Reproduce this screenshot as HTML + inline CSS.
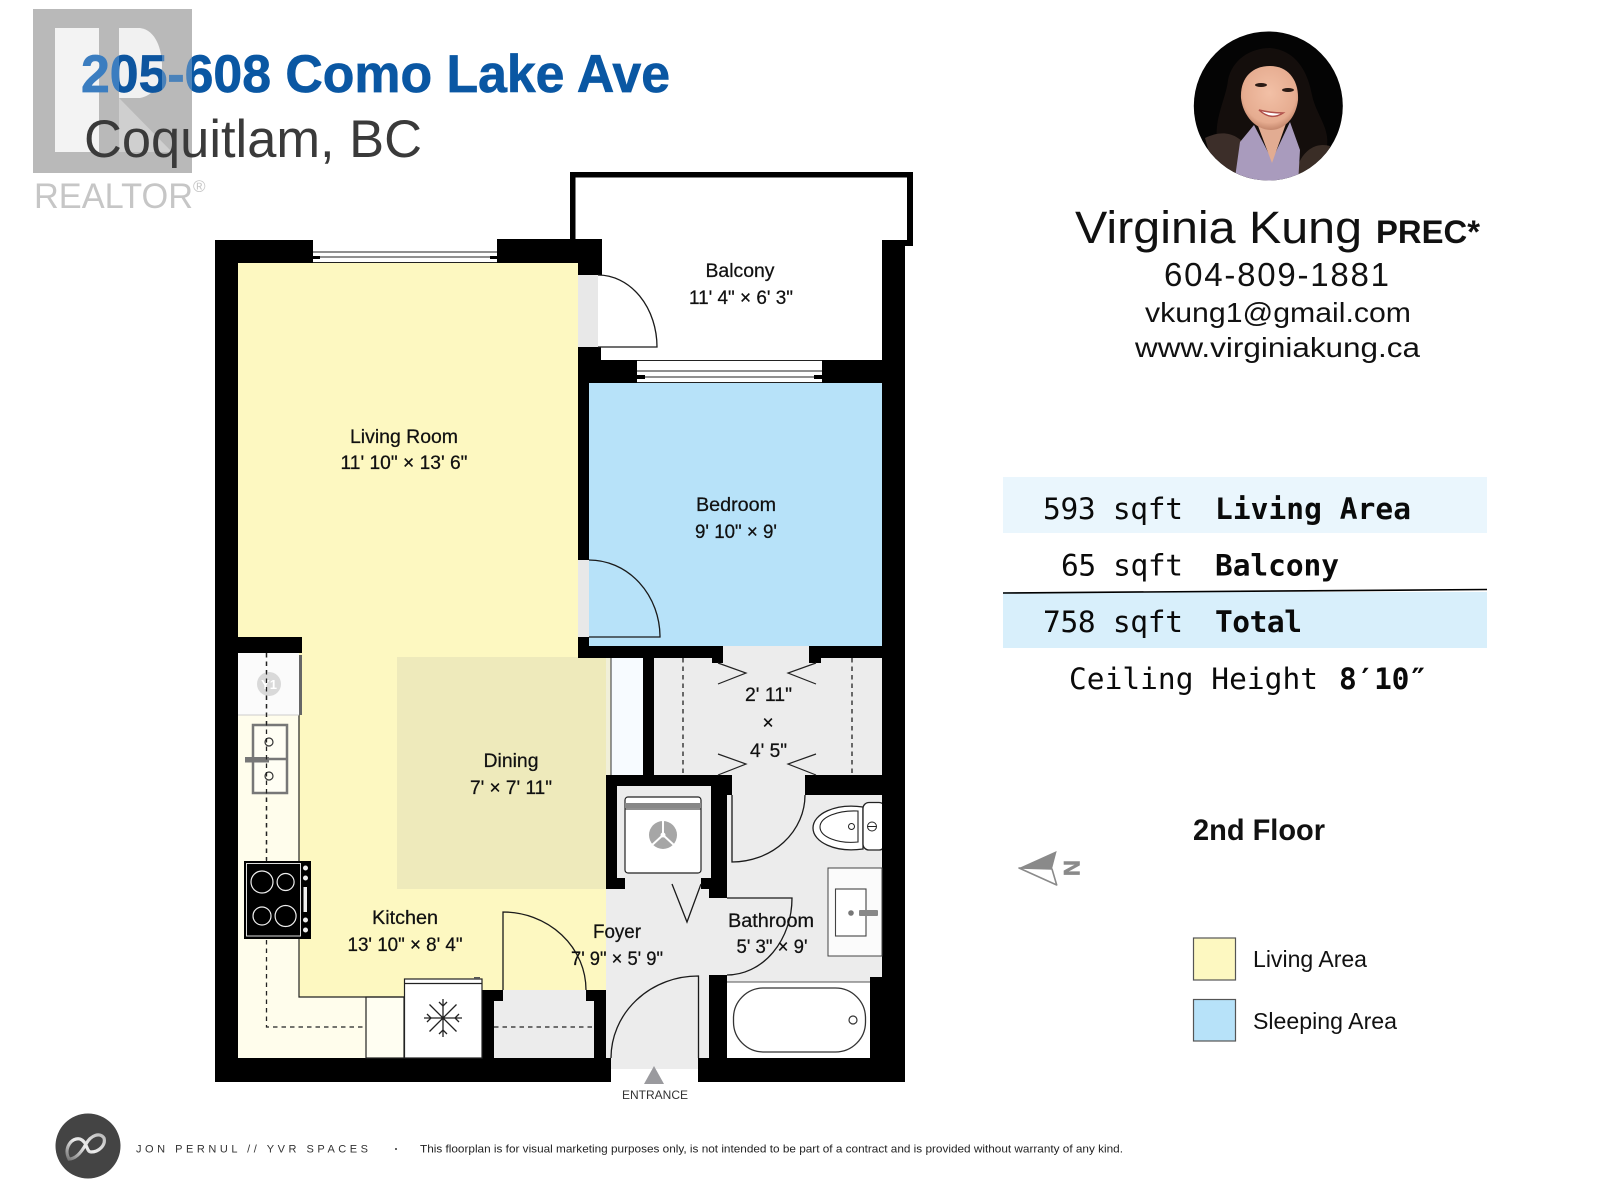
<!DOCTYPE html>
<html lang="en"><head><meta charset="utf-8"><title>205-608 Como Lake Ave floorplan</title>
<style>
html,body{margin:0;padding:0;background:#fff;width:1600px;height:1200px;overflow:hidden}
svg{display:block}
text{font-family:"Liberation Sans",sans-serif;fill:#111}
.m{font-family:"DejaVu Sans Mono","Liberation Mono",monospace;font-size:29.5px;fill:#0a0a0a}
.b{font-weight:bold}
.l{font-size:19px;text-anchor:middle;stroke:#111;stroke-width:.25}
.d{fill:none;stroke:#1a1a1a;stroke-width:1.3}
.t{fill:none;stroke:#222;stroke-width:1.2}
.h{fill:none;stroke:#222;stroke-width:1.3;stroke-dasharray:4.5 4}
</style></head><body>
<svg width="1600" height="1200" viewBox="0 0 1600 1200" xmlns="http://www.w3.org/2000/svg">
<defs>
<linearGradient id="tg" gradientUnits="userSpaceOnUse" x1="0" y1="0" x2="400" y2="0">
<stop offset="0" stop-color="#3b7dc0"/><stop offset=".2975" stop-color="#3b7dc0"/>
<stop offset=".2975" stop-color="#0d559f"/><stop offset=".405" stop-color="#0d559f"/>
<stop offset=".405" stop-color="#4a82ba"/><stop offset=".48" stop-color="#4a82ba"/>
<stop offset=".48" stop-color="#0a57a3"/><stop offset="1" stop-color="#0a57a3"/>
</linearGradient>
<radialGradient id="face" cx=".5" cy=".42" r=".62"><stop offset="0" stop-color="#f2c0a6"/><stop offset=".75" stop-color="#e6ac90"/><stop offset="1" stop-color="#b87a60"/></radialGradient>
<linearGradient id="sw" x1="0" y1="1" x2="1" y2="0"><stop offset="0" stop-color="#777"/><stop offset=".5" stop-color="#eee"/><stop offset="1" stop-color="#bbb"/></linearGradient>
<clipPath id="pc"><circle cx="1268.3" cy="106" r="74.5"/></clipPath>
</defs>
<rect width="1600" height="1200" fill="#fff"/>

<!-- REALTOR logo -->
<rect x="33" y="9" width="159" height="164" fill="#b9b9b9"/>
<rect x="55" y="28" width="44" height="124" fill="#f3f3f3"/>
<path d="M119 28H140C156 30 162 50 162 66C162 84 152 96 140 98L119 98Z" fill="#f1f1f1"/>
<path d="M119 98L172 152H119Z" fill="#cfcfcf"/>
<text x="34" y="208" font-size="35" style="fill:#c6c6c6" textLength="159" lengthAdjust="spacingAndGlyphs">REALTOR</text>
<text x="193" y="192" font-size="17" style="fill:#c6c6c6">®</text>

<text x="81" y="92" font-size="53" font-weight="bold" textLength="589" lengthAdjust="spacingAndGlyphs" style="fill:url(#tg);stroke:url(#tg);stroke-width:.7">205-608 Como Lake Ave</text>
<text x="84" y="157" font-size="53" textLength="338" lengthAdjust="spacingAndGlyphs" style="fill:#3a3a3a">Coquitlam, BC</text>

<!-- floors -->
<path d="M238 263H578V646H606V990H482V997H366V1058H299V653H238Z" fill="#fdf8c1"/>
<rect x="238" y="715" width="61" height="343" fill="#fffdec"/>
<rect x="299" y="997" width="67" height="61" fill="#fffdec"/>
<rect x="366" y="997" width="38" height="61" fill="#fffef2"/>
<rect x="397" y="657" width="209" height="232" fill="#eeeabb"/>
<rect x="589" y="383" width="293" height="263" fill="#b7e2f9"/>
<rect x="238" y="653" width="61" height="62" fill="#fbfbfb"/>
<rect x="578" y="275" width="20" height="72" fill="#e8e8e8"/>
<rect x="578" y="560" width="11" height="77" fill="#e8e8e8"/>
<rect x="606" y="658" width="5" height="117" fill="#f0efd8"/>
<rect x="611" y="658" width="32" height="117" fill="#f7fbff"/>
<rect x="654" y="658" width="228" height="117" fill="#ececec"/>
<rect x="723" y="646" width="86" height="12" fill="#ececec"/>
<rect x="727" y="775" width="78" height="20" fill="#ececec"/>
<rect x="606" y="878" width="121" height="191" fill="#ececec"/>
<rect x="727" y="795" width="155" height="187" fill="#ececec"/>
<rect x="617" y="786" width="94" height="92" fill="#ececec"/>
<path d="M503 990H586V1001H594V1058H494V1001H503Z" fill="#ececec"/>

<!-- walls -->
<g fill="#000">
<rect x="215" y="240" width="23" height="842"/>
<rect x="215" y="240" width="98" height="23"/>
<rect x="497" y="239" width="105" height="24"/>
<rect x="578" y="239" width="24" height="36"/>
<rect x="578" y="347" width="23" height="13"/>
<rect x="578" y="360" width="59" height="23"/>
<rect x="578" y="383" width="11" height="177"/>
<rect x="822" y="360" width="60" height="23"/>
<rect x="882" y="240" width="23" height="842"/>
<rect x="578" y="637" width="11" height="10"/>
<rect x="578" y="646" width="145" height="12"/>
<rect x="809" y="646" width="73" height="12"/>
<rect x="712" y="658" width="11" height="5"/>
<rect x="809" y="658" width="12" height="5"/>
<rect x="238" y="637" width="64" height="16"/>
<rect x="643" y="658" width="11" height="117"/>
<rect x="606" y="775" width="126" height="11"/>
<rect x="606" y="775" width="11" height="114"/>
<rect x="606" y="878" width="19" height="11"/>
<rect x="711" y="775" width="21" height="20"/>
<rect x="711" y="795" width="16" height="103"/>
<rect x="701" y="878" width="10" height="11"/>
<rect x="709" y="889" width="18" height="9"/>
<rect x="805" y="775" width="77" height="20"/>
<rect x="215" y="1058" width="396" height="24"/>
<rect x="698" y="1058" width="207" height="24"/>
<rect x="709" y="975" width="18" height="83"/>
<rect x="870" y="977" width="12" height="81"/>
<rect x="482" y="990" width="21" height="11"/>
<rect x="482" y="990" width="12" height="68"/>
<rect x="586" y="990" width="20" height="11"/>
<rect x="594" y="990" width="12" height="68"/>
<!-- balcony rail -->
<rect x="570" y="172" width="5.5" height="68"/>
<rect x="570" y="172" width="343" height="5.5"/>
<rect x="907" y="172" width="6" height="74"/>
<rect x="903" y="240" width="10" height="6"/>
</g>
<rect x="299" y="655" width="3" height="60" fill="#666"/>

<!-- windows -->
<g>
<rect x="313" y="251" width="184" height="12" fill="#fff"/>
<path d="M313 252H497M313 257H497M313 262.5H497" stroke="#222" stroke-width="1" fill="none"/>
<rect x="313" y="256" width="7" height="3" fill="#000"/><rect x="490" y="256" width="7" height="3" fill="#000"/>
<rect x="637" y="360" width="185" height="23" fill="#fff"/>
<path d="M637 360.5H822M637 371H822M637 377H822M637 382.5H822" stroke="#222" stroke-width="1" fill="none"/>
<rect x="637" y="375" width="8" height="4" fill="#000"/><rect x="814" y="375" width="8" height="4" fill="#000"/>
</g>

<!-- doors -->
<path class="d" d="M598 275A59 72 0 0 1 657 347H598"/>
<path class="d" d="M589 560A71 77 0 0 1 660 637H589"/>
<path class="d" d="M503 990V912A83 78 0 0 1 586 990"/>
<path class="d" d="M732 795V862A73 67 0 0 0 805 795"/>
<path class="d" d="M727 898H792A65 77 0 0 1 727 975"/>
<path class="d" d="M698.5 1058V976A87 82 0 0 0 611 1058"/>
<path class="d" d="M672 884L687 922L701 884"/>

<!-- walk-in closet -->
<path class="t" d="M718 663L746 673L718 684M816 663L788 673L816 684M718 754L746 764L718 775M816 754L788 764L816 775"/>
<path class="h" d="M683 658V775M852 658V775"/>
<path d="M611 658V775" stroke="#333" stroke-width="1"/>

<!-- kitchen -->
<path class="h" d="M266.5 653V861M266.5 940V1027H366M494 1027H594"/>
<path d="M299 715V997H404" class="t"/>
<path d="M238 715H299" stroke="#ccc" stroke-width="1"/>
<circle cx="269" cy="684" r="12" fill="#d9d9d9"/>
<text x="269" y="689" font-size="13" text-anchor="middle" style="fill:#fff" font-weight="bold">Y1</text>
<rect x="253" y="725" width="34" height="68" fill="#fffef4" stroke="#777" stroke-width="2.5"/>
<path d="M253 759H287" stroke="#777" stroke-width="2.5"/>
<circle cx="269" cy="742" r="4" fill="none" stroke="#333" stroke-width="1.2"/>
<circle cx="269" cy="776" r="4" fill="none" stroke="#333" stroke-width="1.2"/>
<rect x="245" y="757" width="24" height="5.5" fill="#777"/>
<path class="h" d="M266.5 653V860"/>
<rect x="244" y="861" width="67" height="78" fill="#000"/>
<rect x="246.5" y="863.5" width="54" height="72.5" fill="none" stroke="#ddd" stroke-width="1"/>
<g fill="none" stroke="#eee" stroke-width="1.2">
<circle cx="262" cy="882" r="11"/><circle cx="285.6" cy="882" r="8.5"/>
<circle cx="262" cy="916" r="9"/><circle cx="285.6" cy="916" r="10.5"/>
</g>
<g fill="#eee"><circle cx="305.5" cy="868" r="2.5"/><circle cx="305.5" cy="878" r="2.5"/><circle cx="305.5" cy="920" r="2.5"/><circle cx="305.5" cy="930" r="2.5"/>
<rect x="303.5" y="887" width="3.5" height="25"/></g>
<!-- fridge -->
<rect x="404.5" y="979" width="77.5" height="79" fill="#fff" stroke="#222" stroke-width="1.2"/>
<path d="M404.5 983.5H482" stroke="#222" stroke-width="1.2"/>
<rect x="474" y="977" width="6" height="2" fill="#555"/>
<g stroke="#222" stroke-width="1.3" fill="none">
<path d="M443 999V1037M424 1018H462M429.5 1004.5L456.5 1031.5M456.5 1004.5L429.5 1031.5"/>
<path d="M439 1002L443 1006L447 1002M439 1034L443 1030L447 1034M427 1014L431 1018L427 1022M459 1014L455 1018L459 1022"/>
</g>
<circle cx="443" cy="1018" r="1.8" fill="#222"/>
<rect x="366" y="997" width="38" height="61" fill="none" stroke="#222" stroke-width="1.2"/>

<!-- washer -->
<rect x="625" y="797" width="76" height="76" rx="3" fill="#fff" stroke="#222" stroke-width="1.2"/>
<rect x="625" y="803" width="76" height="5" fill="#888"/>
<path d="M625 809H701" stroke="#222" stroke-width="1"/>
<circle cx="663" cy="835" r="14" fill="#a6a6a6"/>
<path d="M663 835V820M663 835L651 846M663 835L675 846" stroke="#fff" stroke-width="2"/>
<circle cx="663" cy="835" r="2.5" fill="#fff"/>

<!-- bathroom fixtures -->
<rect x="727" y="982" width="143" height="75" fill="#fff"/>
<path d="M727 982H870" stroke="#555" stroke-width="1"/>
<rect x="733.5" y="988" width="132" height="64" rx="30" fill="#fff" stroke="#333" stroke-width="1.3"/>
<circle cx="853" cy="1020" r="4" fill="none" stroke="#333" stroke-width="1.2"/>
<path d="M863 807C835 803 813 814 813 828C813 842 835 853 863 849Z" fill="#fff" stroke="#222" stroke-width="1.3"/>
<path d="M858 811C838 810 820 817 820 827C820 837 838 844 858 842Z" fill="#fff" stroke="#222" stroke-width="1.1"/>
<rect x="863" y="802.5" width="22" height="47.5" rx="6" fill="#fff" stroke="#222" stroke-width="1.3"/>
<rect x="882" y="800" width="6" height="52" fill="#000"/>
<circle cx="851.5" cy="826.5" r="3" fill="none" stroke="#222"/>
<circle cx="872" cy="826.5" r="4.5" fill="none" stroke="#222"/><path d="M867.5 826.5H876.5" stroke="#222"/>
<rect x="828" y="868" width="54" height="88" fill="#fbfbfb" stroke="#444" stroke-width="1"/>
<rect x="835.5" y="889" width="30.5" height="47" fill="#fff" stroke="#444" stroke-width="1.1"/>
<circle cx="851" cy="913" r="2.8" fill="#777"/>
<rect x="859" y="910" width="19" height="6" rx="1" fill="#888"/>

<!-- entrance -->
<path d="M654 1066L644 1084H664Z" fill="#9a9a9e"/>
<text x="622" y="1099" font-size="11.5" textLength="66" lengthAdjust="spacingAndGlyphs" style="fill:#333">ENTRANCE</text>

<!-- room labels -->
<text class="l" x="740" y="277" textLength="69" lengthAdjust="spacingAndGlyphs">Balcony</text>
<text class="l" x="741" y="304" textLength="104" lengthAdjust="spacingAndGlyphs">11' 4" × 6' 3"</text>
<text class="l" x="736" y="511" textLength="80" lengthAdjust="spacingAndGlyphs">Bedroom</text>
<text class="l" x="736" y="538" textLength="82" lengthAdjust="spacingAndGlyphs">9' 10" × 9'</text>
<text class="l" x="404" y="443" textLength="108" lengthAdjust="spacingAndGlyphs">Living Room</text>
<text class="l" x="404" y="469" textLength="127" lengthAdjust="spacingAndGlyphs">11' 10" × 13' 6"</text>
<text class="l" x="511" y="767" textLength="55" lengthAdjust="spacingAndGlyphs">Dining</text>
<text class="l" x="511" y="794" textLength="82" lengthAdjust="spacingAndGlyphs">7' × 7' 11"</text>
<text class="l" x="405" y="924" textLength="66" lengthAdjust="spacingAndGlyphs">Kitchen</text>
<text class="l" x="405" y="951" textLength="115" lengthAdjust="spacingAndGlyphs">13' 10" × 8' 4"</text>
<text class="l" x="617" y="938" textLength="48" lengthAdjust="spacingAndGlyphs">Foyer</text>
<text class="l" x="617" y="965" textLength="92" lengthAdjust="spacingAndGlyphs">7' 9" × 5' 9"</text>
<text class="l" x="771" y="927" textLength="86" lengthAdjust="spacingAndGlyphs">Bathroom</text>
<text class="l" x="772" y="953" textLength="71" lengthAdjust="spacingAndGlyphs">5' 3" × 9'</text>
<text class="l" x="768.5" y="701" textLength="47" lengthAdjust="spacingAndGlyphs">2' 11"</text>
<text class="l" x="768" y="729">×</text>
<text class="l" x="768.5" y="757" textLength="37" lengthAdjust="spacingAndGlyphs">4' 5"</text>

<!-- portrait -->
<g clip-path="url(#pc)">
<rect x="1190" y="30" width="160" height="155" fill="#040404"/>
<path d="M1218 150C1212 120 1226 100 1228 80C1232 60 1250 48 1270 48C1296 50 1308 72 1312 95C1316 115 1332 130 1326 150L1290 170H1240Z" fill="#140e0c"/>
<path d="M1205 138C1222 130 1236 132 1248 148L1254 185H1218Z" fill="#3c2e29"/>
<path d="M1330 146C1316 142 1304 150 1298 165L1296 185H1322Z" fill="#3a2d26"/>
<path d="M1240 142L1254 125L1272 160L1290 122L1300 150L1298 185H1234Z" fill="#a99bbd"/>
<path d="M1255 118H1288L1272 163Z" fill="#e2ac92"/>
<path d="M1241 98C1240 78 1252 66 1270 66C1288 66 1299 80 1298 100C1296 118 1284 130 1271 130C1256 130 1243 116 1241 98Z" fill="url(#face)"/>
<ellipse cx="1261" cy="85" rx="6" ry="2" fill="#2a1a14"/>
<ellipse cx="1288" cy="90" rx="6" ry="2" fill="#2a1a14"/>
<path d="M1259 110Q1271 121 1283 113Q1271 113 1259 110Z" fill="#fff" stroke="#b0504a" stroke-width="1.5"/>
</g>

<!-- contact -->
<text x="1075" y="243" font-size="45" textLength="287" lengthAdjust="spacingAndGlyphs" style="fill:#111">Virginia Kung</text>
<text x="1376" y="243" font-size="32" textLength="104" lengthAdjust="spacingAndGlyphs" style="fill:#111;font-weight:bold">PREC*</text>
<text x="1164" y="286" font-size="33" textLength="225" lengthAdjust="spacing" style="fill:#111">604-809-1881</text>
<text x="1145" y="322" font-size="28" textLength="266" lengthAdjust="spacingAndGlyphs" style="fill:#111">vkung1@gmail.com</text>
<text x="1135" y="357" font-size="28" textLength="285" lengthAdjust="spacingAndGlyphs" style="fill:#111">www.virginiakung.ca</text>

<!-- table -->
<rect x="1003" y="477" width="484" height="56" fill="#eaf6fd"/>
<rect x="1003" y="592" width="484" height="56" fill="#d8effb"/>
<path d="M1003 593L1487 589.5" stroke="#000" stroke-width="1.6"/>
<text class="m" x="1043" y="519" textLength="140">593 sqft</text>
<text class="m b" x="1215" y="519" textLength="196">Living Area</text>
<text class="m" x="1061" y="575.5" textLength="122">65 sqft</text>
<text class="m b" x="1215" y="575.5" textLength="124">Balcony</text>
<text class="m" x="1043" y="632" textLength="140">758 sqft</text>
<text class="m b" x="1215" y="632" textLength="87">Total</text>
<text class="m" x="1069" y="689" textLength="249">Ceiling Height</text>
<text class="m b" x="1339" y="689" textLength="88">8′10″</text>

<!-- legend -->
<text x="1193" y="840" font-size="30" font-weight="bold" textLength="132" lengthAdjust="spacingAndGlyphs" style="fill:#111">2nd Floor</text>
<rect x="1193.5" y="938" width="42" height="42" fill="#fdf8c1" stroke="#555" stroke-width="1.2"/>
<rect x="1193.5" y="999.5" width="42" height="41.5" fill="#b7e2f9" stroke="#555" stroke-width="1.2"/>
<text x="1253" y="967" font-size="23" textLength="114" lengthAdjust="spacingAndGlyphs" style="fill:#111">Living Area</text>
<text x="1253" y="1029" font-size="23" textLength="144" lengthAdjust="spacingAndGlyphs" style="fill:#111">Sleeping Area</text>

<!-- north arrow -->
<path d="M1019 868L1056.7 851L1052 869Z" fill="#8a8a8a"/>
<path d="M1019 868L1052 869L1056.7 885Z" fill="#fff" stroke="#8a8a8a" stroke-width="1.6" stroke-linejoin="round"/>
<text x="0" y="0" font-size="22" font-weight="bold" text-anchor="middle" transform="translate(1064 868) rotate(90)" style="fill:#8a8a8a;stroke:#8a8a8a;stroke-width:.6">N</text>

<!-- footer -->
<circle cx="88" cy="1146" r="32.5" fill="#444"/>
<path d="M69 1159C63 1148 72 1137 80 1139C88 1142 86 1152 91 1152C99 1152 106 1145 104 1138C100 1132 91 1135 86 1144C81 1153 75 1159 69 1159Z" fill="none" stroke="url(#sw)" stroke-width="3.2"/>
<text x="136" y="1152.7" font-size="11" textLength="232" lengthAdjust="spacing" style="fill:#333">JON PERNUL // YVR SPACES</text>
<circle cx="396" cy="1149" r="1" fill="#333"/>
<text x="420" y="1152.7" font-size="11" textLength="703" lengthAdjust="spacingAndGlyphs" style="fill:#222">This floorplan is for visual marketing purposes only, is not intended to be part of a contract and is provided without warranty of any kind.</text>
</svg>
</body></html>
